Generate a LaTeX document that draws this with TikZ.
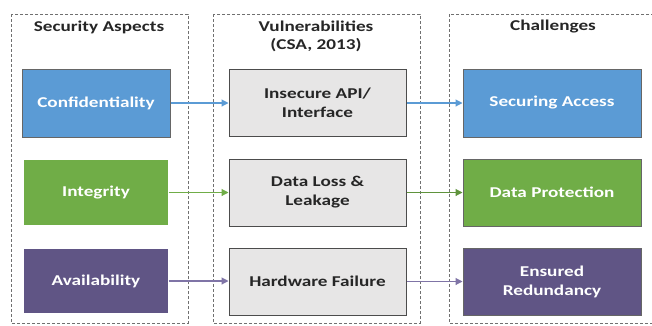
\documentclass[tikz,border=0pt]{standalone}
\usepackage{fontspec}
\setmainfont{Carlito}[FakeStretch=1.28]
\usetikzlibrary{arrows.meta}
\definecolor{cblue}{HTML}{5B9BD5}
\definecolor{cgreen}{HTML}{70AD47}
\definecolor{cpurple}{HTML}{605585}
\definecolor{carrp}{HTML}{7F74A6}
\definecolor{cgray}{HTML}{E7E6E6}
\definecolor{pan}{HTML}{707070}
\tikzset{
  panel/.style={draw=pan, line width=0.9pt, dash pattern=on 3pt off 2pt},
  colbox/.style={draw=gray!80!black, line width=1pt, minimum width=147pt, minimum height=66pt, text=white, font=\bfseries\fontsize{15}{19}\selectfont, align=center, inner sep=0pt},
  vbox/.style={draw=black!70, fill=cgray, line width=1pt, minimum width=177pt, minimum height=67pt, text=black!85, font=\bfseries\fontsize{15}{19}\selectfont, align=center, inner sep=0pt},
  ttl/.style={text=black!85, font=\bfseries\fontsize{15}{18}\selectfont, align=center},
  arr/.style={line width=1.1pt, -{Triangle[length=7pt,width=7pt]}}
}
\begin{document}
\begin{tikzpicture}[x=1pt,y=-1pt]
\useasboundingbox (0,0) rectangle (652,325);
\fill[white] (0,0) rectangle (652,325);
\draw[panel] (11,14) rectangle (188,323);
\draw[panel] (213,14) rectangle (420,323);
\draw[panel] (449,14) rectangle (660,323);
\node[ttl] (t1) at (99,27) {Security Aspects};
\node[ttl] (t2) at (316,36) {Vulnerabilities\\(CSA, 2013)};
\node[ttl] (t3) at (553,27) {Challenges};
\node[colbox, fill=cblue, minimum width=148pt, minimum height=68pt] (a1) at (96,103) {Confidentiality};
\node[colbox, fill=cgreen, draw=none, minimum width=144pt, minimum height=65pt] (a2) at (96,192.5) {Integrity};
\node[colbox, fill=cpurple, draw=none, minimum width=144pt, minimum height=64pt] (a3) at (96,281) {Availability};
\node[vbox] (v1) at (317.5,103) {Insecure API/\\Interface};
\node[vbox] (v2) at (317.5,192.5) {Data Loss \&\\Leakage};
\node[vbox] (v3) at (317.5,281.5) {Hardware Failure};
\node[colbox, fill=cblue, minimum width=178pt, minimum height=68pt] (c1) at (552,103) {Securing Access};
\node[colbox, fill=cgreen, minimum width=178pt, minimum height=67pt] (c2) at (552,192.5) {Data Protection};
\node[colbox, fill=cpurple, minimum width=178pt, minimum height=67pt] (c3) at (552,281.5) {Ensured\\Redundancy};
\draw[arr, cblue] (a1) -- (v1);
\draw[arr, cgreen] (a2) -- (v2);
\draw[arr, carrp] (a3) -- (v3.west |- a3);
\draw[arr, cblue] (v1) -- (c1);
\draw[arr, cgreen!85!black] (v2) -- (c2);
\draw[arr, carrp] (v3) -- (c3);
\end{tikzpicture}
\end{document}
